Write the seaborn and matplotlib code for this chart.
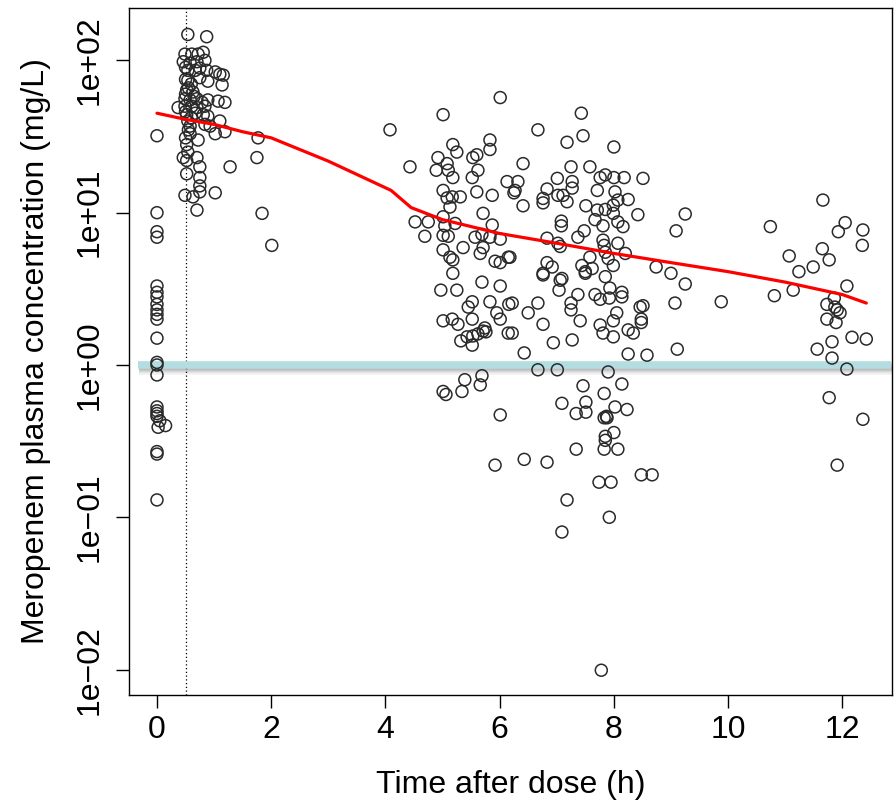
import matplotlib
matplotlib.use("Agg")
import matplotlib.pyplot as plt
import matplotlib.patheffects as pe
import seaborn as sns
import pandas as pd

# ---- observed concentrations (time after dose in h, concentration in mg/L) ----
t_trough = [0, 0, 0, 0, 0, 0, 0, 0, 0, 0, 0, 0, 0, 0, 0, 0, 0, 0, 0, 0.05, 0.02, 0.15, 0, 0, 0]
c_trough = [32, 10, 7.5, 6.9, 3.3, 3.0, 2.8, 2.5, 2.3, 2.15, 2.0, 1.5, 1.04, 1.0, 0.86,
            0.53, 0.50, 0.48, 0.46, 0.43, 0.39, 0.40, 0.27, 0.26, 0.13]

t_peak = [0.54, 0.87, 0.49, 0.61, 0.72, 0.81, 0.46, 0.58, 0.70, 0.84, 0.54, 0.67, 0.75, 0.87,
          1.02, 1.10, 1.16, 0.54, 0.75, 0.89, 1.14, 0.52, 0.63, 0.49, 0.58, 0.70, 0.79, 0.89,
          1.07, 1.19, 0.37, 0.49, 0.61, 0.70, 0.84, 0.52, 0.67, 0.81, 0.89, 0.54, 0.84, 0.93,
          1.10, 0.58, 1.02, 1.19, 0.58, 1.77, 0.52, 0.72, 0.54, 0.46, 0.70, 0.52, 0.75, 1.28,
          1.75, 0.52, 0.75, 0.75, 0.49, 0.63, 0.75, 1.02, 0.70, 1.84, 2.01,
          0.50, 0.50, 0.55, 0.50, 0.55, 0.50, 0.60, 0.65, 0.50, 0.60]
c_peak = [148, 143, 110, 110, 110, 113, 98, 96, 98, 100, 86, 86, 89, 86,
          84, 81, 80, 74, 77, 73, 69, 64, 62, 56, 55, 56, 53, 55,
          54, 53, 49, 50, 50, 49, 50, 44, 45, 44, 43, 40, 38, 37,
          40, 37, 33, 34, 33, 31, 28, 30, 25, 23, 23, 22, 20, 20,
          23, 18, 17, 15, 13, 12.7, 13.7, 13.5, 10.4, 9.9, 6.1,
          60, 75, 66, 46, 35, 31, 42, 58, 90, 70]

t_mid = [6.01, 5.01, 4.08, 5.18, 5.25, 5.83, 5.83, 4.92, 5.08, 5.53, 5.60, 4.89, 5.10, 5.18,
         5.62, 5.52, 4.43, 6.13, 6.27, 5.01, 5.08, 5.17, 5.31, 5.60, 5.87, 5.13, 5.71, 4.52,
         4.75, 5.01, 5.04, 5.22, 5.87, 4.69, 5.01, 5.10, 5.57, 5.69, 5.83, 6.01, 5.01, 5.13,
         5.18, 5.36, 5.66, 5.71, 5.92, 6.01, 6.15, 5.18,
         4.97, 5.25, 5.69, 6.01, 5.52, 5.45, 5.83, 6.16, 5.95, 6.01, 5.01, 5.17, 5.27, 5.52,
         5.74, 5.76, 5.71, 6.15, 5.32, 5.43, 5.52, 5.53, 5.62, 5.39, 5.69, 5.66, 5.34, 5.01,
         5.06, 6.01, 5.92]
c_mid = [57, 44, 35, 28, 25, 30, 26, 23, 21, 23, 24, 19, 19, 17,
         19, 17, 20, 16, 14, 14, 12.5, 12.7, 12.7, 13.7, 13, 10.9, 9.9, 8.7,
         8.7, 9.4, 8.2, 8.5, 8.3, 7.0, 7.1, 7.0, 6.9, 7.2, 6.9, 6.7, 5.7, 5.1,
         4.9, 5.9, 5.4, 5.9, 4.8, 4.7, 5.1, 4.0,
         3.1, 3.1, 3.5, 3.3, 2.6, 2.4, 2.6, 2.5, 2.2, 2.0, 1.95, 2.0, 1.85, 2.0,
         1.75, 1.65, 1.67, 1.62, 1.44, 1.53, 1.35, 1.55, 1.6, 0.80, 0.85, 0.74, 0.67, 0.67,
         0.64, 0.47, 0.22]

t_late = [7.43, 6.67, 7.46, 7.18, 8.00, 6.41, 7.25, 7.58, 7.76, 7.85, 8.00, 8.18, 8.51, 7.01,
          6.32, 7.27, 6.25, 6.83, 7.27, 7.71, 8.02, 6.76, 6.76, 7.02, 7.11, 7.18, 8.07, 8.25,
          6.41, 7.51, 7.71, 7.85, 7.99, 7.99, 8.42, 7.08, 7.08, 7.67, 7.81, 8.07, 8.16, 7.48,
          7.37, 6.83, 7.02, 7.06, 7.81, 7.83, 8.07, 7.58, 7.85, 7.90, 8.20, 7.99, 6.18, 6.83,
          6.92, 6.76, 7.44, 7.50, 7.62, 7.09, 7.85,
          6.76, 7.50, 7.06, 7.04, 7.37, 7.67, 7.76, 7.93, 7.92, 8.14, 8.14, 6.22, 6.67, 7.25,
          7.25, 6.50, 8.05, 8.46, 8.48, 8.48, 7.41, 7.99, 6.76, 7.76, 7.81, 7.99, 8.25, 8.34,
          6.22, 6.94, 7.27, 6.43, 8.25, 8.58, 6.67, 7.01, 7.90, 7.46, 8.14, 7.83, 7.09, 7.51,
          7.34, 7.51, 8.02, 8.23, 7.87, 7.88, 7.83, 8.00, 7.85, 7.85, 7.83, 8.07, 7.34, 6.43,
          6.83, 7.74, 7.95, 8.48, 8.67, 7.18, 7.92, 7.09, 7.78]
c_late = [45, 35, 32, 29, 27, 21, 20, 20, 17, 17.7, 17, 17, 16.8, 16.8,
          16, 16, 13.5, 14.3, 14.5, 14, 13.7, 12.4, 11.6, 13, 13, 11.8, 12.1, 12.2,
          11.1, 11.1, 10.4, 10.5, 11.2, 9.9, 9.7, 8.8, 8.2, 9.0, 8.2, 8.7, 8.1, 7.6,
          6.9, 6.8, 6.3, 6.0, 6.6, 6.1, 6.3, 5.1, 5.5, 5.0, 5.4, 4.5, 5.1, 4.7,
          4.4, 4.0, 4.5, 4.1, 4.3, 3.7, 3.8,
          3.9, 4.0, 3.6, 3.1, 2.9, 2.9, 2.7, 3.2, 2.75, 3.0, 2.8, 2.55, 2.55, 2.55,
          2.3, 2.2, 2.2, 2.4, 2.0, 1.9, 1.95, 1.95, 1.85, 1.83, 1.62, 1.53, 1.7, 1.62,
          1.62, 1.40, 1.46, 1.2, 1.18, 1.16, 0.93, 0.93, 0.9, 0.73, 0.75, 0.65, 0.56, 0.57,
          0.48, 0.49, 0.53, 0.51, 0.46, 0.45, 0.45, 0.36, 0.34, 0.32, 0.28, 0.28, 0.28, 0.24,
          0.23, 0.17, 0.17, 0.19, 0.19, 0.13, 0.10, 0.08, 0.0099]

t_end = [9.25, 9.09, 10.74, 8.74, 9.00, 9.25, 8.51, 9.07, 9.88, 10.81, 9.11, 11.66, 12.05, 11.93,
         12.36, 12.35, 11.07, 11.65, 11.77, 11.49, 11.24, 11.14, 12.08, 11.86, 11.73, 11.87,
         11.96, 11.73, 11.89, 11.91, 12.17, 12.42, 11.82, 11.56, 11.82, 12.08, 11.77, 12.36, 11.91]
c_end = [9.8, 7.6, 8.1, 4.4, 4.0, 3.4, 2.45, 2.55, 2.6, 2.85, 1.27, 12.1, 8.6, 7.5,
         7.7, 6.1, 5.2, 5.8, 4.9, 4.4, 4.1, 3.1, 3.3, 2.75, 2.5, 2.4,
         2.2, 2.0, 1.9, 2.3, 1.52, 1.48, 1.42, 1.27, 1.11, 0.94, 0.61, 0.44, 0.22]

# ---- smoothed trend (red line) ----
smooth_time = [0, 0.5, 1, 1.5, 2, 3, 4.1, 4.45, 5, 6, 7, 8, 9, 10, 11, 12, 12.42]
smooth_conc = [45, 41, 38, 34, 31, 21.8, 14, 10.8, 9.0, 7.3, 6.3, 5.4, 4.7, 4.1, 3.5, 2.9, 2.55]

mic_mg_l = 1.0
infusion_end_h = 0.5
x_ticks = [0, 2, 4, 6, 8, 10, 12]
y_ticks = [1e-2, 1e-1, 1e0, 1e1, 1e2]
y_tick_labels = ["1e\u221202", "1e\u221201", "1e+00", "1e+01", "1e+02"]

obs = pd.DataFrame({
    "time": t_trough + t_peak + t_mid + t_late + t_end,
    "conc": c_trough + c_peak + c_mid + c_late + c_end,
})
trend = pd.DataFrame({"time": smooth_time, "conc": smooth_conc})

sns.set_style("ticks")
plt.rcParams["font.family"] = ["Liberation Sans", "DejaVu Sans"]
plt.rcParams["text.color"] = "black"
plt.rcParams["axes.labelcolor"] = "black"

fig = plt.figure(figsize=(8.94, 8.02), dpi=100)
ax = fig.add_axes([129 / 894, 1 - 695 / 802, (892 - 129) / 894, (695 - 8) / 802])

ax.set_yscale("log")
ax.set_xlim(-0.49, 12.87)
ax.set_ylim(10 ** -2.167, 10 ** 2.344)

ax.axvline(infusion_end_h, color="black", lw=0.9, ls=(0, (1, 2)), zorder=1)
soft_shadow = [pe.SimpleLineShadow(offset=(0.5, -k), shadow_color="black", alpha=0.06)
               for k in (0.8, 1.6, 2.4, 3.2, 4.0)]
ax.hlines(mic_mg_l, -0.33, 12.85, color="#b3dde0", lw=5.5, zorder=1.5,
          path_effects=soft_shadow + [pe.Normal()])

sns.scatterplot(data=obs, x="time", y="conc", ax=ax, marker="o", s=74,
                facecolors="none", edgecolor="#2a2a2a", linewidth=1.1, zorder=3)
sns.lineplot(data=trend, x="time", y="conc", ax=ax, color="#ff0000", lw=2.3,
             zorder=4, estimator=None, sort=False)

ax.set_xticks(x_ticks)
ax.set_xticklabels([str(v) for v in x_ticks])
ax.set_yticks(y_ticks)
ax.set_yticklabels(y_tick_labels, rotation=90, va="center")
ax.yaxis.set_minor_locator(matplotlib.ticker.NullLocator())

ax.tick_params(axis="both", direction="out", length=9.4, width=1.0, color="black",
               labelsize=23, labelcolor="black")
ax.tick_params(axis="x", pad=5)
ax.tick_params(axis="y", pad=8)

for sp in ax.spines.values():
    sp.set_visible(True)
    sp.set_color("black")
    sp.set_linewidth(1.0)

ax.set_xlabel("Time after dose (h)", fontsize=23, labelpad=18, color="black")
ax.set_ylabel("Meropenem plasma concentration (mg/L)", fontsize=23, labelpad=17, color="black")

fig.savefig("out.png", dpi=100)
